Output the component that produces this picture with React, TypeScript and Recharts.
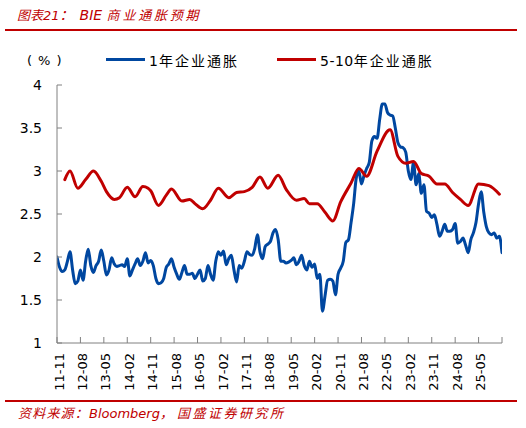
import React from 'react';
import { LineChart, Line, XAxis, YAxis } from 'recharts';

// month index 0 = 2011-11, monthly
const tickMonths = [0, 9, 18, 27, 36, 45, 54, 63, 72, 81, 90, 99, 108, 117, 126, 135, 144, 153, 162, 171];
const tickLabels = ['11-11', '12-08', '13-05', '14-02', '14-11', '15-08', '16-05', '17-02', '17-11', '18-08', '19-05', '20-02', '20-11', '21-08', '22-05', '23-02', '23-11', '24-08', '25-05', ''];
const yTicks = [1, 1.5, 2, 2.5, 3, 3.5, 4];

// 1年企业通胀 (monthly)
const oneYear = [
  2.00, 1.88, 1.83, 1.85, 1.95, 2.06, 1.85, 1.69, 1.72, 1.85,
  1.73, 1.95, 2.09, 1.90, 1.82, 1.90, 1.95, 2.08, 1.95, 1.79,
  1.85, 1.99, 1.92, 1.89, 1.90, 1.91, 1.89, 1.98, 1.78, 1.85,
  1.92, 1.98, 1.90, 1.95, 2.05, 1.93, 1.96, 1.90, 1.75, 1.69,
  1.70, 1.75, 1.88, 1.92, 1.98, 1.88, 1.80, 1.74, 1.82, 1.90,
  1.80, 1.80, 1.81, 1.75, 1.80, 1.85, 1.72, 1.75, 1.90, 1.80,
  1.73, 1.95, 2.06, 2.02, 2.07, 1.91, 1.98, 2.02, 1.85, 1.71,
  1.90, 1.87, 1.95, 2.06, 2.03, 2.02, 2.10, 2.26, 2.06, 1.98,
  2.12, 2.15, 2.18, 2.28, 2.32, 2.20, 1.95, 1.95, 1.93, 1.94,
  1.96, 1.99, 1.91, 1.95, 2.02, 1.90, 1.85, 1.95, 1.88, 1.92,
  1.75, 1.80, 1.37, 1.55, 1.73, 1.74, 1.72, 1.56, 1.80, 1.87,
  1.95, 2.17, 2.20, 2.40, 2.62, 2.92, 3.00, 2.85, 2.95, 3.03,
  3.10, 3.35, 3.40, 3.38, 3.60, 3.78, 3.78, 3.68, 3.65, 3.64,
  3.50, 3.33, 3.28, 3.27, 3.22, 3.00, 2.90, 3.10, 2.84, 2.97,
  2.74, 2.84, 2.53, 2.51, 2.46, 2.49, 2.38, 2.24, 2.30, 2.38,
  2.30, 2.30, 2.32, 2.39, 2.16, 2.18, 2.22, 2.14, 2.05, 2.20,
  2.28, 2.40, 2.62, 2.76, 2.52, 2.35, 2.28, 2.26, 2.28, 2.22,
  2.24, 2.05,
];

// 5-10年企业通胀 (survey months and values)
const longRunMonths = [
  3, 5, 8, 11, 14, 17, 19, 22, 24, 27, 30, 33, 35, 36, 39, 42, 44, 48, 51, 53,
  56, 59, 62, 66, 69, 72, 75, 78, 81, 85, 88, 92, 95, 97, 100, 103, 106, 109, 113, 116,
  119, 123, 128, 131, 134, 137, 140, 143, 146, 149, 152, 155, 158, 162, 166, 170,
];
const longRunValues = [
  2.90, 3.00, 2.80, 2.90, 3.00, 2.88, 2.76, 2.67, 2.69, 2.81, 2.70, 2.82, 2.80, 2.77, 2.60, 2.72, 2.79, 2.65, 2.67, 2.62,
  2.56, 2.66, 2.80, 2.69, 2.75, 2.76, 2.81, 2.93, 2.80, 2.95, 2.79, 2.66, 2.68, 2.62, 2.62, 2.52, 2.42, 2.64, 2.86, 3.03,
  2.94, 3.23, 3.48, 3.17, 3.09, 3.11, 2.97, 2.94, 2.85, 2.85, 2.75, 2.67, 2.60, 2.85, 2.83, 2.73,
];

const data = oneYear.map((v, i) => {
  const k = longRunMonths.indexOf(i);
  return { m: i, oneYear: v, longRun: k >= 0 ? longRunValues[k] : null };
});

const RED = '#C00000';
const BLUE = '#0047A0';
const AXIS = '#808080';
const SANS = "'DejaVu Sans', 'Noto Sans CJK SC', sans-serif";
const CJK = "'Noto Sans CJK SC', 'DejaVu Sans', sans-serif";

const XTick = (props: any) => {
  const { x, y, payload } = props;
  const idx = tickMonths.indexOf(payload.value);
  const label = idx >= 0 ? tickLabels[idx] : '';
  return (
    <g transform={`translate(${x + 2},${y})`}>
      <text transform="rotate(-90)" x={0} y={0} dy="0.35em" textAnchor="end" fontSize={13} fontFamily={SANS} fill="#000">
        {label}
      </text>
    </g>
  );
};

export default function App() {
  return (
    <div style={{ position: 'relative', width: 526, height: 428, background: '#fff', fontFamily: SANS }}>
      <style>{`body{margin:0;}`}</style>
      <div style={{ position: 'absolute', left: 17, top: 5, fontSize: 14, lineHeight: '18px', fontStyle: 'italic', color: RED, whiteSpace: 'nowrap' }}>
        <span style={{ fontFamily: CJK, fontSize: 13 }}>图表</span>
        <span style={{ fontFamily: SANS, fontSize: 13 }}>21</span>
        <span style={{ fontFamily: CJK, fontSize: 14, letterSpacing: '6px' }}>：</span>
        <span style={{ fontFamily: SANS, fontSize: 14 }}>BIE </span>
        <span style={{ fontFamily: CJK, fontSize: 13, letterSpacing: '2.8px' }}>商业通胀预期</span>
      </div>
      <div style={{ position: 'absolute', left: 5, top: 29, width: 512, height: 2, background: RED }} />
      <div style={{ position: 'absolute', left: 27, top: 52, fontSize: 13, lineHeight: '18px', color: '#000', whiteSpace: 'nowrap', fontFamily: SANS, letterSpacing: '6px' }}>(%)</div>
      <div style={{ position: 'absolute', left: 106, top: 58, width: 39, height: 3, background: BLUE }} />
      <div style={{ position: 'absolute', left: 149, top: 51, fontSize: 14, lineHeight: '18px', color: '#000', whiteSpace: 'nowrap' }}>
        <span style={{ fontFamily: SANS, letterSpacing: '1px' }}>1</span>
        <span style={{ fontFamily: CJK, letterSpacing: '2px' }}>年企业通胀</span>
      </div>
      <div style={{ position: 'absolute', left: 277, top: 58, width: 39, height: 3, background: RED }} />
      <div style={{ position: 'absolute', left: 320, top: 51, fontSize: 14, lineHeight: '18px', color: '#000', whiteSpace: 'nowrap' }}>
        <span style={{ fontFamily: SANS, letterSpacing: '0.5px' }}>5-10</span>
        <span style={{ fontFamily: CJK, letterSpacing: '2px' }}>年企业通胀</span>
      </div>

      <div style={{ position: 'absolute', left: 0, top: 0 }}>
        <LineChart width={526} height={428} data={data} margin={{ top: 85, right: 24, bottom: 25, left: 0 }}>
          <XAxis
            type="number"
            dataKey="m"
            domain={[0, 171]}
            ticks={tickMonths}
            interval={0}
            height={60}
            tickSize={-6}
            tickMargin={16}
            axisLine={{ stroke: AXIS, strokeWidth: 1 }}
            tickLine={{ stroke: AXIS, strokeWidth: 1 }}
            tick={<XTick />}
            allowDataOverflow
          />
          <YAxis
            type="number"
            domain={[1, 4]}
            ticks={yTicks}
            interval={0}
            width={57}
            tickSize={-5}
            tickMargin={20}
            axisLine={{ stroke: AXIS, strokeWidth: 1 }}
            tickLine={{ stroke: AXIS, strokeWidth: 1 }}
            tick={{ fill: '#000', fontSize: 14, fontFamily: SANS }}
            allowDataOverflow
          />
          <Line
            dataKey="oneYear"
            type="monotone"
            stroke={BLUE}
            strokeWidth={3}
            strokeLinejoin="round"
            strokeLinecap="round"
            dot={false}
            activeDot={false}
            isAnimationActive={false}
          />
          <Line
            dataKey="longRun"
            type="monotone"
            stroke={RED}
            strokeWidth={3}
            strokeLinejoin="round"
            strokeLinecap="round"
            dot={false}
            activeDot={false}
            connectNulls
            isAnimationActive={false}
          />
        </LineChart>
      </div>

      <div style={{ position: 'absolute', left: 5, top: 400, width: 512, height: 2, background: RED }} />
      <div style={{ position: 'absolute', left: 18, top: 404, fontSize: 13, lineHeight: '18px', fontStyle: 'italic', color: RED, whiteSpace: 'nowrap' }}>
        <span style={{ fontFamily: CJK, letterSpacing: '1.2px' }}>资料来源：</span>
        <span style={{ fontFamily: SANS }}>Bloomberg</span>
        <span style={{ fontFamily: CJK, letterSpacing: '4px' }}>，</span>
        <span style={{ fontFamily: CJK, letterSpacing: '2.5px' }}>国盛证券研究所</span>
      </div>
    </div>
  );
}
